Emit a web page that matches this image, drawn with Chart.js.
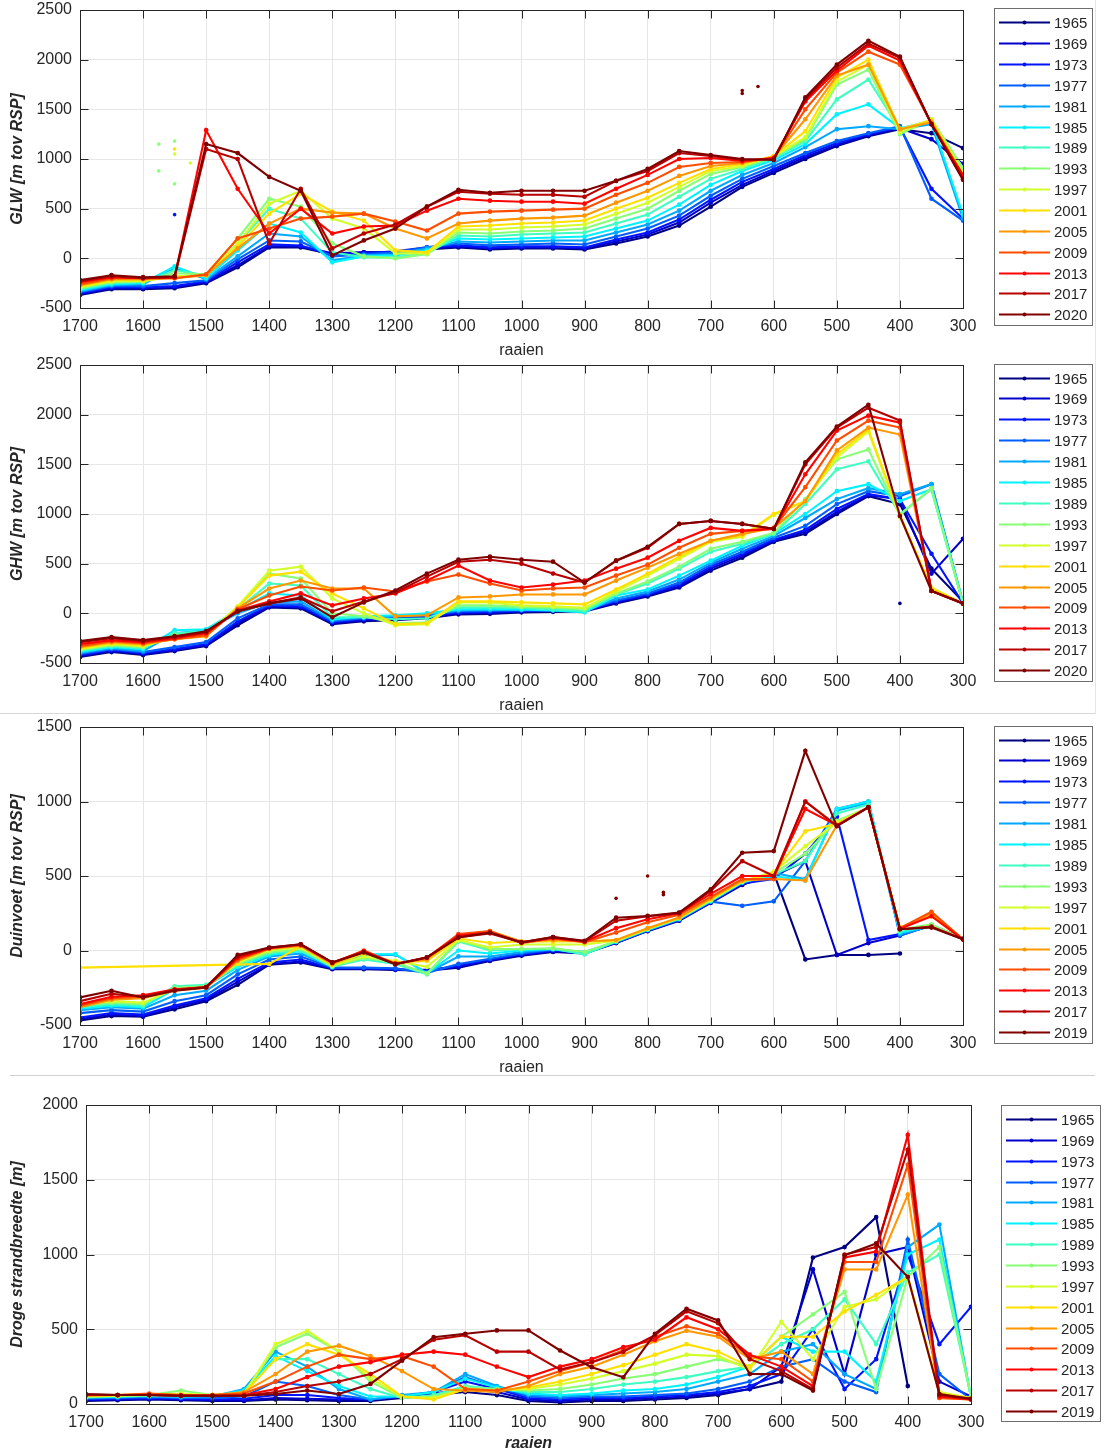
<!DOCTYPE html>
<html>
<head>
<meta charset="utf-8">
<script src="https://cdn.jsdelivr.net/npm/chart.js@4.4.0/dist/chart.umd.min.js"></script>
<style>
body { margin:0; background:#fff; width:1105px; height:1453px; position:relative; overflow:hidden; }
.paneel { position:absolute; left:0; width:1105px; }
.paneel canvas { display:block; }
#lijn1 { position:absolute; left:0; top:713px; width:1095px; border-top:1px solid #d8d8d8; }
#lijn2 { position:absolute; left:1095px; top:0; height:714px; border-left:1px solid #e6e6e6; }
#lijn3 { position:absolute; left:10px; top:1075px; width:1085px; border-top:1px solid #d0d0d0; }
</style>
</head>
<body>
<div class="paneel" style="top:0px;height:362px"><canvas id="grafiekGLW" width="1105" height="362"></canvas></div>
<div class="paneel" style="top:355px;height:362px"><canvas id="grafiekGHW" width="1105" height="362"></canvas></div>
<div class="paneel" style="top:717px;height:362px"><canvas id="grafiekDuin" width="1105" height="362"></canvas></div>
<div class="paneel" style="top:1095px;height:358px"><canvas id="grafiekStrand" width="1105" height="358"></canvas></div>
<div id="lijn1"></div><div id="lijn2"></div><div id="lijn3"></div>
<script>
// raaien (x-as), van links naar rechts
const raaien = [1700,1650,1600,1550,1500,1450,1400,1350,1300,1250,1200,1150,1100,1050,1000,950,900,850,800,750,700,650,600,550,500,450,400,350,300];
const jaren2020 = [1965,1969,1973,1977,1981,1985,1989,1993,1997,2001,2005,2009,2013,2017,2020];
const jaren2019 = [1965,1969,1973,1977,1981,1985,1989,1993,1997,2001,2005,2009,2013,2017,2019];
// jet kleuren
const kleuren = ['#000080','#0000ca','#0014ff','#005eff','#00a8ff','#00f2ff','#3effc1','#89ff76','#d3ff2b','#ffe000','#ff9700','#ff4d00','#ff0300','#b80000','#800000'];

const xTicks = [1700,1600,1500,1400,1300,1200,1100,1000,900,800,700,600,500,400,300];
const yTicksHW = [-500,0,500,1000,1500,2000,2500];
const yTicksDuin = [-500,0,500,1000,1500];
const yTicksStrand = [0,500,1000,1500,2000];

// GLW
const glw = [
  [-370,-310,-310,-300,-250,-90,110,110,40,60,60,90,110,90,100,100,90,150,220,330,520,720,860,1000,1130,1230,1300,1260,1110],
  [-360,-300,-300,-290,-240,-70,120,120,50,60,60,100,120,100,110,110,100,170,240,360,560,740,880,1020,1140,1240,1310,1200,950],
  [-350,-290,-290,-280,-230,-40,140,130,30,50,70,110,130,110,120,120,110,190,260,390,590,770,900,1040,1160,1250,1320,700,400],
  [-340,-280,-280,-250,-220,-10,180,170,20,40,60,110,150,130,140,150,140,220,300,430,630,800,930,1060,1180,1260,1330,600,380],
  [-330,-270,-260,-100,-210,20,250,220,-20,30,40,100,170,160,170,180,180,260,340,480,680,840,960,1120,1300,1330,1300,1350,400],
  [-320,-260,-250,-80,-200,80,350,260,-40,20,30,80,200,190,200,210,220,300,380,540,740,880,990,1150,1450,1550,1310,1380,440],
  [-310,-250,-240,-120,-170,150,500,400,60,10,10,50,230,220,240,250,260,350,440,620,800,900,1010,1180,1600,1800,1300,1390,900],
  [-300,-240,-230,-150,-160,200,600,520,150,20,0,40,260,250,270,280,300,400,500,680,850,920,1020,1200,1750,1900,1250,1400,910],
  [-290,-230,-230,-180,-170,150,550,680,400,300,50,50,290,290,310,320,340,450,560,720,880,930,1030,1220,1780,1950,1270,1400,860],
  [-280,-220,-220,-190,-170,120,450,650,470,380,80,60,320,330,350,360,380,500,610,760,900,950,1030,1280,1820,2000,1300,1390,840],
  [-270,-210,-210,-200,-170,100,350,500,460,450,300,200,350,380,400,410,430,560,680,830,930,960,1020,1400,1840,1950,1300,1370,830],
  [-260,-200,-200,-200,-160,200,300,400,420,450,370,280,450,470,480,490,500,640,760,920,960,970,1010,1500,1870,2080,1950,1360,830],
  [-240,-190,-200,-190,1290,700,250,500,250,320,330,480,600,580,570,570,550,700,840,1000,1010,980,1010,1580,1890,2140,1990,1350,840],
  [-230,-180,-200,-190,1100,1000,150,700,100,250,340,520,670,650,640,640,620,780,880,1060,1030,990,1000,1600,1920,2160,2020,1350,800],
  [-220,-170,-190,-180,1150,1060,820,680,30,180,300,520,690,660,680,680,680,780,900,1080,1040,1000,990,1620,1950,2190,2030,1350,790]
];
// losse punten GLW: [raai, waarde, kleurindex]
const glwLos = [[1575,1150,7],[1550,1180,7],[1550,1100,9],[1550,1050,8],[1575,880,7],[1550,750,7],[1525,960,8],[1550,440,2],[650,1660,14],[650,1690,14],[625,1730,14]];

// GHW
const ghw = [
  [-440,-390,-420,-380,-330,-120,60,50,-110,-80,-70,-50,-10,-5,10,15,20,100,170,260,430,560,720,800,1000,1180,1100,450,120],
  [-430,-380,-410,-370,-320,-100,70,60,-100,-70,-60,-40,0,5,20,25,25,110,180,270,450,580,730,820,1020,1190,1150,400,750],
  [-420,-370,-400,-360,-310,-80,80,70,-90,-60,-50,-30,10,15,25,30,30,120,190,290,470,600,740,840,1050,1200,1150,600,100],
  [-410,-360,-390,-340,-290,-50,90,90,-80,-50,-40,-20,20,25,30,35,35,130,200,310,490,620,760,880,1100,1230,1180,1300,100],
  [-400,-350,-380,-200,-170,0,110,120,-70,-40,-30,-10,30,35,35,30,20,150,220,340,510,650,780,960,1150,1260,1200,1300,110],
  [-390,-340,-360,-170,-160,30,200,180,-60,-30,-20,0,40,45,40,30,10,180,240,380,530,680,800,1000,1230,1300,1130,1250,100],
  [-380,-330,-350,-200,-180,40,300,280,-40,-40,-60,-50,60,60,55,40,25,190,300,450,620,700,800,1100,1450,1530,1000,1250,100],
  [-370,-320,-340,-220,-200,60,400,350,0,-30,-100,-90,80,80,65,60,40,200,320,470,650,720,810,1150,1550,1650,990,1260,100],
  [-360,-310,-330,-240,-220,70,430,470,150,0,-120,-110,110,110,80,70,55,220,380,550,720,770,990,1130,1570,1830,970,260,100],
  [-350,-300,-320,-250,-230,60,380,420,200,50,-110,-100,120,120,110,100,90,240,400,570,730,780,1000,1130,1600,1850,990,250,100],
  [-340,-290,-310,-260,-230,50,250,330,250,250,-30,-20,160,170,190,190,190,330,460,600,730,800,860,1130,1640,1870,1800,230,100],
  [-330,-280,-300,-260,-220,40,180,270,230,260,220,320,390,300,230,250,260,380,490,660,800,830,860,1270,1740,1940,1870,225,100],
  [-310,-270,-290,-250,-200,30,120,200,80,150,200,330,480,330,260,290,330,450,560,730,860,830,850,1400,1840,1990,1920,225,100],
  [-290,-250,-280,-240,-190,20,100,160,20,120,210,370,520,540,500,400,310,530,660,900,930,900,850,1500,1870,2070,1940,225,100],
  [-280,-240,-270,-230,-180,20,100,150,-40,110,230,400,540,570,540,520,310,530,670,900,930,900,850,1520,1880,2100,980,225,100]
];
const ghwLos = [[400,100,0]];

// Duinvoet
const duin = [
  [-470,-440,-445,-395,-340,-230,-95,-80,-125,-125,-130,-135,-115,-70,-35,-10,-20,50,130,200,320,440,520,-60,-30,-30,-20,null,null],
  [-460,-430,-440,-380,-330,-210,-90,-75,-120,-120,-128,-130,-110,-65,-30,-5,-18,52,132,202,322,445,500,600,-30,50,100,170,80],
  [-450,-420,-430,-370,-320,-190,-80,-60,-118,-118,-125,-140,-100,-60,-25,0,-15,54,134,205,325,450,480,650,900,70,110,165,80],
  [-420,-400,-410,-340,-300,-160,-60,-40,-115,-115,-120,-150,-90,-55,-20,5,-12,56,136,208,328,300,330,600,950,1000,100,170,80],
  [-400,-380,-390,-300,-270,-130,-40,-20,-112,-30,-28,-150,-40,-40,-10,8,-10,58,138,210,330,455,520,480,940,990,110,165,78],
  [-390,-370,-380,-260,-240,-110,-30,-5,-110,-25,-25,-155,0,-20,0,10,-25,60,140,212,332,458,500,470,950,1000,120,165,78],
  [-380,-360,-370,-240,-230,-100,-20,0,-108,-60,-90,-160,60,0,8,12,-25,62,142,214,335,460,510,600,920,980,130,170,77],
  [-370,-350,-360,-250,-240,-90,-10,10,-105,-50,-80,-155,65,10,10,15,-10,64,144,216,338,462,520,650,870,960,140,175,76],
  [-360,-340,-350,-260,-245,-80,0,20,-100,-40,-70,-110,70,20,40,40,40,66,146,218,340,464,530,700,860,960,150,250,76],
  [-115,null,null,null,null,null,-90,30,-95,-20,-80,-70,80,50,60,60,60,68,148,220,345,466,520,800,850,960,155,230,75],
  [-380,-330,-320,-270,-250,-70,10,30,-90,-10,-85,-60,100,130,60,70,60,70,150,222,350,470,480,470,840,960,150,250,75],
  [-370,-320,-310,-265,-248,-60,15,35,-85,0,-90,-50,110,130,50,80,55,120,190,240,360,480,480,1000,840,960,150,260,75],
  [-360,-310,-300,-260,-245,-50,15,40,-82,-5,-90,-47,100,120,55,85,60,150,210,250,380,500,500,950,840,960,145,230,75],
  [-340,-290,-310,-265,-245,-40,18,42,-80,-10,-92,-46,90,115,55,90,62,200,230,252,400,600,500,1000,835,960,143,160,76],
  [-315,-270,-315,-270,-248,-30,20,42,-80,-13,-92,-47,87,120,54,90,65,220,232,254,410,656,667,1340,835,962,143,154,76]
];
const duinLos = [[850,350,14],[800,500,14],[775,390,14],[775,375,14]];

// Droge strandbreedte
const strand = [
  [20,25,30,25,20,20,30,25,20,20,40,60,80,60,20,10,20,20,30,40,60,100,150,980,1050,1250,120,null,null],
  [25,30,35,30,25,25,40,35,30,30,50,70,100,80,30,20,30,30,40,50,70,100,250,900,200,1000,1050,150,50],
  [30,35,40,35,30,35,60,60,40,30,50,80,150,100,40,30,40,40,50,60,80,120,200,500,100,300,1000,400,650],
  [35,40,45,40,40,50,150,120,60,30,50,80,180,110,50,40,50,50,60,70,100,150,250,300,150,80,1100,200,30],
  [40,45,50,45,50,100,350,250,100,30,60,80,200,120,60,50,60,70,80,100,150,200,350,400,200,100,1050,1200,40],
  [45,50,55,50,55,90,320,220,120,50,50,80,170,110,70,60,70,90,100,130,180,250,450,350,350,150,1000,1100,50],
  [45,50,55,60,55,80,300,300,200,100,40,60,120,100,80,80,100,130,150,180,220,250,400,500,700,400,880,1000,50],
  [50,55,60,90,60,70,380,470,350,150,40,50,110,100,90,100,130,170,200,250,300,250,450,600,750,100,850,1050,50],
  [50,55,60,70,60,70,400,490,350,170,50,40,100,90,100,130,170,220,270,330,320,230,550,300,650,700,850,80,40],
  [55,60,65,60,60,70,300,400,330,200,50,30,100,90,110,150,200,260,330,400,350,250,450,450,620,730,850,70,40],
  [55,60,65,60,60,80,200,350,390,320,220,100,90,80,120,200,250,330,420,490,450,300,350,200,900,900,1400,40,30],
  [60,60,70,60,60,70,150,250,330,300,320,250,100,90,150,220,280,360,450,520,470,320,300,150,950,950,1600,40,30],
  [60,60,60,55,55,60,100,180,250,280,330,350,330,250,180,250,300,380,430,580,500,330,250,120,980,1020,1800,50,30],
  [65,60,60,55,55,55,80,120,150,200,300,430,460,350,350,230,280,350,460,620,540,300,220,100,1000,1050,1700,60,35],
  [65,60,60,55,55,55,67,90,67,134,290,447,470,492,492,358,246,179,470,637,559,201,200,90,995,1074,850,67,34]
];

const lettertype = '"Liberation Sans", Arial, Helvetica, sans-serif';
const tekstKleur = '#262626';

// kader met ticks naar binnen, zoals matlab
const kaderPlugin = {
  id: 'kader',
  afterDatasetsDraw(chart) {
    const { ctx, chartArea: a, scales } = chart;
    const l = Math.round(a.left) + 0.5, r = Math.round(a.right) + 0.5;
    const t = Math.round(a.top) + 0.5, b = Math.round(a.bottom) + 0.5;
    ctx.save();
    ctx.strokeStyle = tekstKleur;
    ctx.lineWidth = 1;
    ctx.strokeRect(l, t, r - l, b - t);
    ctx.beginPath();
    scales.x.ticks.forEach(tk => {
      const px = Math.round(scales.x.getPixelForValue(tk.value)) + 0.5;
      ctx.moveTo(px, b); ctx.lineTo(px, b - 8);
      ctx.moveTo(px, t); ctx.lineTo(px, t + 8);
    });
    scales.y.ticks.forEach(tk => {
      const py = Math.round(scales.y.getPixelForValue(tk.value)) + 0.5;
      ctx.moveTo(l, py); ctx.lineTo(l + 8, py);
      ctx.moveTo(r, py); ctx.lineTo(r - 8, py);
    });
    ctx.stroke();
    ctx.restore();
  }
};

// legenda in een kader rechts
const legendaPlugin = {
  id: 'kaderLegenda',
  afterDraw(chart, args, opts) {
    const ctx = chart.ctx;
    const sets = chart.data.datasets.filter(d => !d.losPunt);
    ctx.save();
    ctx.fillStyle = '#fff';
    ctx.fillRect(opts.x, opts.y, opts.w, opts.h);
    ctx.strokeStyle = '#6e6e6e';
    ctx.lineWidth = 1;
    ctx.strokeRect(opts.x + 0.5, opts.y + 0.5, opts.w, opts.h);
    ctx.font = '15px ' + lettertype;
    ctx.textBaseline = 'middle';
    sets.forEach((d, i) => {
      const y = Math.round(opts.y + opts.eerste + i * opts.stap) + 0.5;
      ctx.strokeStyle = d.borderColor;
      ctx.lineWidth = 2;
      ctx.beginPath();
      ctx.moveTo(opts.x + 5, y);
      ctx.lineTo(opts.x + 56, y);
      ctx.stroke();
      ctx.fillStyle = d.borderColor;
      ctx.beginPath();
      ctx.arc(opts.x + 30.5, y, 2, 0, Math.PI * 2);
      ctx.fill();
      ctx.fillStyle = tekstKleur;
      ctx.fillText(d.label, opts.x + 60, y + 1);
    });
    ctx.restore();
  }
};

function maakGrafiek(id, cfg) {
  const datasets = cfg.jaren.map((jaar, i) => ({
    label: String(jaar),
    data: raaien.map((r, k) => ({ x: r, y: cfg.reeksen[i][k] })),
    borderColor: kleuren[i],
    backgroundColor: kleuren[i],
    borderWidth: 2.1,
    pointRadius: 1.3,
    pointHoverRadius: 0,
    spanGaps: cfg.spanJaar === jaar,
    order: cfg.jaren.length - i + 1
  }));
  if (cfg.los) {
    datasets.push({
      label: '',
      losPunt: true,
      data: cfg.los.map(p => ({ x: p[0], y: p[1] })),
      showLine: false,
      pointRadius: 1.8,
      pointBackgroundColor: cfg.los.map(p => kleuren[p[2]]),
      pointBorderWidth: 0,
      order: 0
    });
  }
  const yTicks = cfg.yTicks;
  new Chart(document.getElementById(id), {
    type: 'line',
    data: { datasets: datasets },
    options: {
      responsive: false,
      animation: false,
      events: [],
      layout: { padding: { top: 10, left: 0, right: cfg.rechts, bottom: 0 } },
      plugins: {
        legend: { display: false },
        tooltip: { enabled: false },
        kaderLegenda: cfg.legenda
      },
      scales: {
        x: {
          type: 'linear',
          reverse: true,
          min: 300,
          max: 1700,
          afterBuildTicks: s => { s.ticks = xTicks.map(v => ({ value: v })); },
          afterFit: s => { s.height = cfg.xHoogte; s.paddingLeft = 0; s.paddingRight = 0; },
          ticks: {
            autoSkip: false,
            maxRotation: 0,
            padding: 9,
            color: tekstKleur,
            font: { family: lettertype, size: 16 },
            callback: v => String(v)
          },
          grid: { color: '#e6e6e6', drawTicks: false },
          border: { display: false },
          title: {
            display: true,
            text: 'raaien',
            color: tekstKleur,
            padding: { top: 0, bottom: cfg.xTitelPad },
            font: { family: lettertype, size: 16, weight: cfg.xVet ? 'bold' : 'normal', style: cfg.xVet ? 'italic' : 'normal' }
          }
        },
        y: {
          min: yTicks[0],
          max: yTicks[yTicks.length - 1],
          afterBuildTicks: s => { s.ticks = yTicks.map(v => ({ value: v })); },
          afterFit: s => { s.width = cfg.links; s.paddingTop = 0; s.paddingBottom = 0; },
          ticks: {
            padding: 8,
            color: tekstKleur,
            font: { family: lettertype, size: 16 },
            callback: v => String(v)
          },
          grid: { color: '#e6e6e6', drawTicks: false },
          border: { display: false },
          title: {
            display: true,
            text: cfg.yTitel,
            color: tekstKleur,
            padding: { top: 8, bottom: 0 },
            font: { family: lettertype, size: 16, weight: 'bold', style: 'italic' }
          }
        }
      }
    },
    plugins: [kaderPlugin, legendaPlugin]
  });
}

const legendaStd = { x: 994, y: 9, w: 98, h: 317, eerste: 13.5, stap: 20.9 };

maakGrafiek('grafiekGLW', {
  jaren: jaren2020, reeksen: glw, los: glwLos, yTicks: yTicksHW,
  yTitel: 'GLW [m tov RSP]', links: 80, rechts: 142, xHoogte: 54, xTitelPad: 2, xVet: false,
  legenda: { x: 994, y: 8, w: 98, h: 317, eerste: 14.3, stap: 20.86 }
});
maakGrafiek('grafiekGHW', {
  jaren: jaren2020, reeksen: ghw, los: ghwLos, yTicks: yTicksHW,
  yTitel: 'GHW [m tov RSP]', links: 80, rechts: 142, xHoogte: 54, xTitelPad: 2, xVet: false,
  legenda: legendaStd
});
maakGrafiek('grafiekDuin', {
  jaren: jaren2019, reeksen: duin, los: duinLos, yTicks: yTicksDuin, spanJaar: 2001,
  yTitel: 'Duinvoet [m tov RSP]', links: 80, rechts: 142, xHoogte: 54, xTitelPad: 2, xVet: false,
  legenda: legendaStd
});
maakGrafiek('grafiekStrand', {
  jaren: jaren2019, reeksen: strand, yTicks: yTicksStrand,
  yTitel: 'Droge strandbreedte [m]', links: 86, rechts: 134, xHoogte: 49, xTitelPad: 0, xVet: true,
  legenda: { x: 1001, y: 10, w: 99, h: 316, eerste: 14, stap: 20.86 }
});
</script>
</body>
</html>
